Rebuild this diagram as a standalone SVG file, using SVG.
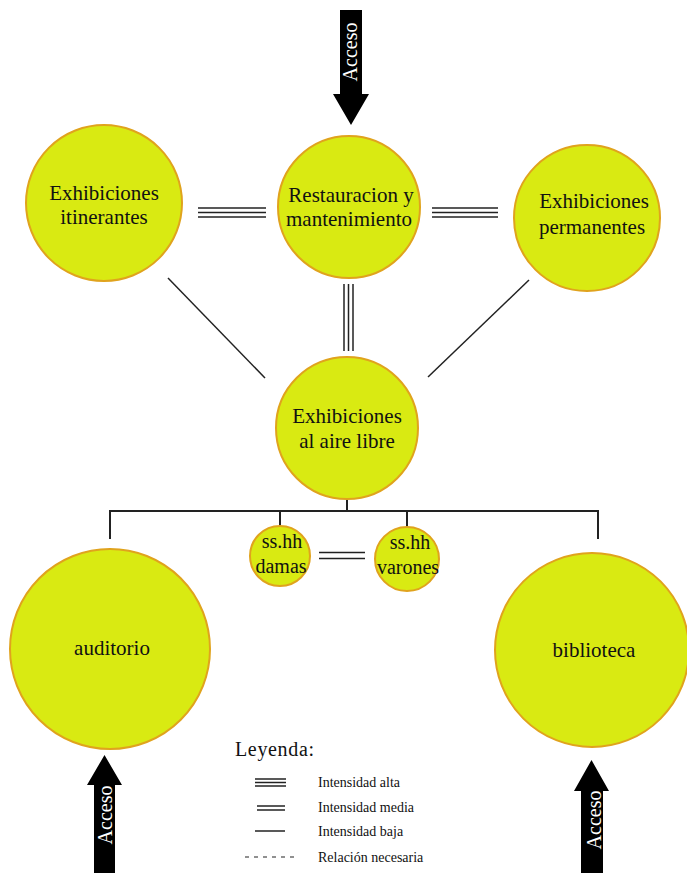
<svg xmlns="http://www.w3.org/2000/svg" width="687" height="873" viewBox="0 0 687 873">
<style>
.node{fill:#d9ea12;stroke:#e0a31d;stroke-width:2}
.t{font-family:"Liberation Serif","Times New Roman",serif;font-size:21px;fill:#111;text-anchor:middle}
.ts{font-family:"Liberation Serif","Times New Roman",serif;font-size:20px;fill:#111;text-anchor:middle}
.ln{stroke:#222;stroke-width:2;fill:none}
.ln1{stroke:#222;stroke-width:1.5;fill:none}
.arrow{fill:#000}
.at{font-family:"Liberation Serif","Times New Roman",serif;font-size:20px;fill:#fff;text-anchor:middle}
.lg{font-family:"Liberation Serif","Times New Roman",serif;font-size:14px;fill:#111}
</style>
<rect width="687" height="873" fill="#fff"/>
<g id="connectors">
<line class="ln1" x1="198" y1="208" x2="266" y2="208"/>
<line class="ln1" x1="198" y1="212.5" x2="266" y2="212.5"/>
<line class="ln1" x1="198" y1="217" x2="266" y2="217"/>
<line class="ln1" x1="432" y1="208" x2="498" y2="208"/>
<line class="ln1" x1="432" y1="212.5" x2="498" y2="212.5"/>
<line class="ln1" x1="432" y1="217" x2="498" y2="217"/>
<line class="ln1" x1="344" y1="284" x2="344" y2="351"/>
<line class="ln1" x1="348.5" y1="284" x2="348.5" y2="351"/>
<line class="ln1" x1="353" y1="284" x2="353" y2="351"/>
<line class="ln1" x1="168" y1="278" x2="265" y2="378"/>
<line class="ln1" x1="529" y1="280" x2="428" y2="377"/>
<polyline class="ln" points="110,539 110,511 598,511 598,539"/>
<line class="ln" x1="347" y1="500" x2="347" y2="511"/>
<line class="ln" x1="280" y1="511" x2="280" y2="526"/>
<line class="ln" x1="407" y1="511" x2="407" y2="527"/>
<line class="ln1" x1="319" y1="552.5" x2="365" y2="552.5"/>
<line class="ln1" x1="319" y1="558.5" x2="365" y2="558.5"/>
</g>
<g id="n1"><circle class="node" cx="104" cy="203" r="78"/><text class="t" x="104" y="200">Exhibiciones</text><text class="t" x="104" y="224">itinerantes</text></g>
<g id="n2"><circle class="node" cx="349" cy="207" r="71"/><text class="t" x="351" y="202">Restauracion y</text><text class="t" x="349" y="226">mantenimiento</text></g>
<g id="n3"><circle class="node" cx="587" cy="218" r="73"/><text class="t" x="594" y="208">Exhibiciones</text><text class="t" x="592" y="234">permanentes</text></g>
<g id="n4"><circle class="node" cx="347" cy="428" r="71"/><text class="t" x="347" y="423">Exhibiciones</text><text class="t" x="347" y="448">al aire libre</text></g>
<g id="n5"><circle class="node" cx="280" cy="556" r="30"/><text class="ts" x="282" y="548">ss.hh</text><text class="ts" x="281" y="573">damas</text></g>
<g id="n6"><circle class="node" cx="407" cy="559" r="32"/><text class="ts" x="410" y="549">ss.hh</text><text class="ts" x="408" y="574">varones</text></g>
<g id="n7"><circle class="node" cx="110" cy="649" r="100"/><text class="t" x="112" y="655">auditorio</text></g>
<g id="n8"><circle class="node" cx="592" cy="650" r="97"/><text class="t" x="594" y="657">biblioteca</text></g>
<g id="access-top"><polygon class="arrow" points="340,10 362,10 362,94 369,94 351,125 333,94 340,94"/><text class="at" transform="translate(357,52) rotate(-90)">Acceso</text></g>
<g id="access-left"><polygon class="arrow" points="104.5,755 122,785 115,785 115,873 94,873 94,785 87,785"/><text class="at" transform="translate(112,815) rotate(-90)">Acceso</text></g>
<g id="access-right"><polygon class="arrow" points="591.5,760 609,791 603,791 603,873 581,873 581,791 574,791"/><text class="at" transform="translate(601,820) rotate(-90)">Acceso</text></g>
<g id="legend">
<text x="235" y="756" font-family="Liberation Serif, Times New Roman, serif" font-size="20" fill="#111" textLength="79">Leyenda:</text>
<line class="ln1" x1="255" y1="779" x2="286" y2="779"/>
<line class="ln1" x1="255" y1="782.5" x2="286" y2="782.5"/>
<line class="ln1" x1="255" y1="786" x2="286" y2="786"/>
<text class="lg" x="318" y="787">Intensidad alta</text>
<line class="ln1" x1="257" y1="806" x2="285" y2="806"/>
<line class="ln1" x1="257" y1="810" x2="285" y2="810"/>
<text class="lg" x="318" y="812">Intensidad media</text>
<line class="ln1" x1="255" y1="831" x2="285" y2="831"/>
<text class="lg" x="318" y="836">Intensidad baja</text>
<line x1="245" y1="857" x2="297" y2="857" stroke="#222" stroke-width="1.2" stroke-dasharray="4,5"/>
<text class="lg" x="318" y="862">Relación necesaria</text>
</g>
</svg>
